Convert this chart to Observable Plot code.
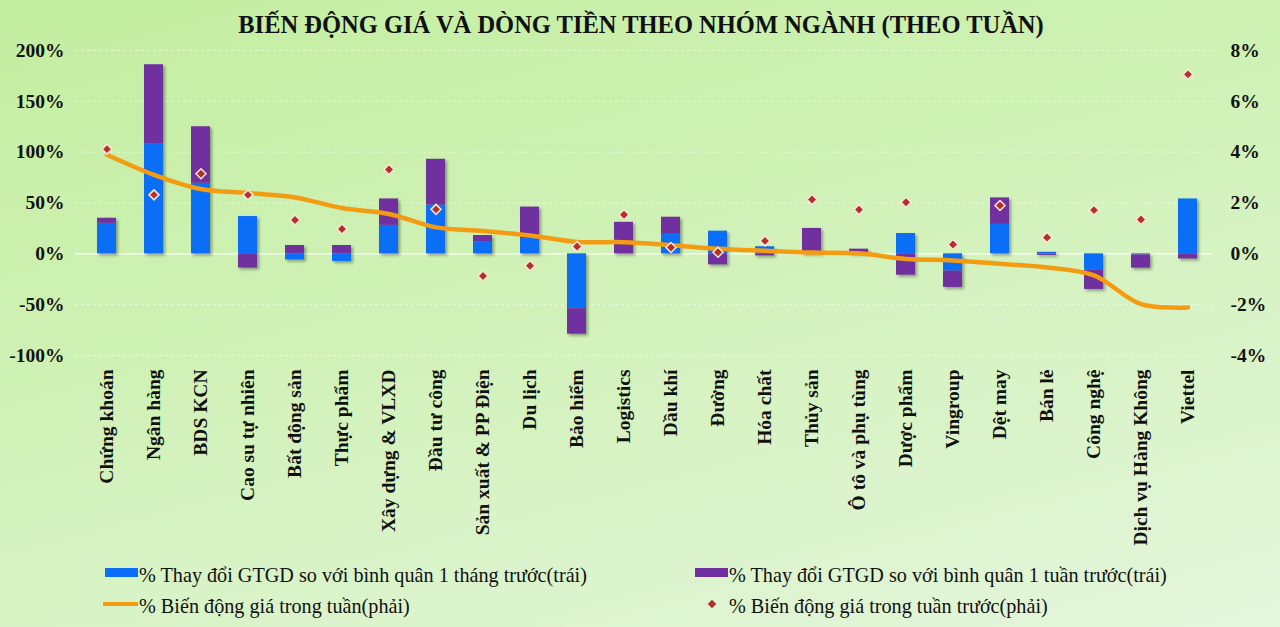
<!DOCTYPE html>
<html><head><meta charset="utf-8">
<script src="https://cdn.jsdelivr.net/npm/d3@7"></script>
<script src="https://cdn.jsdelivr.net/npm/@observablehq/plot@0.6"></script>
<style>
html,body{margin:0;padding:0;}
#page{position:relative;width:1280px;height:627px;overflow:hidden;background:linear-gradient(165deg,#c3eea0 0%,#cff1b5 40%,#e4f6dc 100%);font-family:"Liberation Serif","Times New Roman",serif;color:#111;}
#title{position:absolute;left:0;width:1282px;top:10px;text-align:center;font-weight:bold;font-size:24.5px;line-height:30px;}
#chart{position:absolute;left:0;top:0;}
.bars{filter:drop-shadow(2px 2px 1.5px rgba(0,0,0,0.35));}
.leg{position:absolute;font-size:20.2px;line-height:22px;white-space:nowrap;}
.sw{position:absolute;}
</style></head>
<body>
<div id="page">
  <div id="chart"></div>
  <div id="title">BIẾN ĐỘNG GIÁ VÀ DÒNG TIỀN THEO NHÓM NGÀNH (THEO TUẦN)</div>
  <div class="sw" style="left:105px;top:568px;width:33px;height:9px;background:#0b6ef7"></div>
  <div class="leg" style="left:139px;top:564px;">% Thay đổi GTGD so với bình quân 1 tháng trước(trái)</div>
  <div class="sw" style="left:695px;top:568px;width:33px;height:9px;background:#7030a0"></div>
  <div class="leg" style="left:729px;top:564px;">% Thay đổi GTGD so với bình quân 1 tuần trước(trái)</div>
  <div class="sw" style="left:103px;top:602px;width:35px;height:4px;background:#f39c12"></div>
  <div class="leg" style="left:139px;top:595px;">% Biến động giá trong tuần(phải)</div>
  <div class="sw" style="left:709px;top:601px;width:6px;height:6px;background:#b3302b;transform:rotate(45deg)"></div>
  <div class="leg" style="left:729px;top:595px;">% Biến động giá trong tuần trước(phải)</div>
</div>
<script>
const categories = ["Chứng khoán","Ngân hàng","BDS KCN","Cao su tự nhiên","Bất động sản","Thực phẩm","Xây dựng & VLXD","Đầu tư công","Sản xuất & PP Điện","Du lịch","Bảo hiểm","Logistics","Dầu khí","Đường","Hóa chất","Thủy sản","Ô tô và phụ tùng","Dược phẩm","Vingroup","Dệt may","Bán lẻ","Công nghệ","Dịch vụ Hàng Không","Viettel"];
// % change in trading value vs 1-month average (left axis), bottom segment
const vsMonth = [30,108,69.5,36.7,-6,-7.5,28,48,12,15,-54,0,20,22.3,7,0,0,20,-17,29,1.5,-16,-1,54];
// % change in trading value vs 1-week average (left axis), stacked segment
const vsWeek = [5,78,55.5,-14,8.2,8.2,26,45,6,31,-25,31,16,-10.8,-2,25,4.6,-21,-16,26,-1.5,-19,-13,-5];
// % price change this week (right axis)
const priceWeek = [3.9,3.11,2.55,2.39,2.22,1.80,1.57,1.04,0.90,0.72,0.47,0.46,0.34,0.20,0.12,0.05,0.02,-0.20,-0.26,-0.39,-0.54,-0.85,-1.98,-2.11];
// % price change previous week (right axis)
const pricePrevWeek = [4.12,2.32,3.15,2.32,1.33,0.98,3.32,1.75,-0.87,-0.47,0.29,1.54,0.25,0.06,0.51,2.14,1.74,2.03,0.37,1.90,0.64,1.72,1.35,7.06];
const leftTicks = [-100,-50,0,50,100,150,200];
const rightTicks = [-4,-2,0,2,4,6,8];
const ratio = 25; // left units per right unit

const bars = [];
categories.forEach((c,i)=>{ bars.push({cat:c, s:"month", v:vsMonth[i]}); });
categories.forEach((c,i)=>{ bars.push({cat:c, s:"week", v:vsWeek[i]}); });
const pts = categories.map((c,i)=>({cat:c, p:priceWeek[i], q:pricePrevWeek[i]}));

const chart = Plot.plot({
  width:1280, height:560,
  marginTop:50, marginBottom:205, marginLeft:81, marginRight:67,
  style:{background:"transparent", fontFamily:"'Liberation Serif', serif", color:"#111"},
  x:{domain:categories, paddingInner:0.6, paddingOuter:0.3, axis:null},
  y:{domain:[-100,200], axis:null},
  color:{domain:["month","week"], range:["#0b6ef7","#7030a0"]},
  marks:[
    Plot.ruleY(leftTicks.filter(d=>d!==0), {stroke:"#ffffff", strokeOpacity:0.55, strokeDasharray:"3,3", insetLeft:-6}),
    Plot.ruleY([0], {stroke:"#ffffff", strokeOpacity:0.9, strokeWidth:1.2, insetLeft:-6}),
    Plot.barY(bars, Plot.stackY({x:"cat", y:"v", fill:"s", order:null, className:"bars"})),
    Plot.lineY(pts, {x:"cat", y:d=>d.p*ratio, stroke:"#f39c12", strokeWidth:4.5, curve:"catmull-rom"}),
    Plot.dot(pts, {x:"cat", y:d=>d.q*ratio, symbol:"diamond2", r:4.5, fill:"#b3302b", stroke:"#fce6d6", strokeWidth:1.5}),
    Plot.axisY(leftTicks, {anchor:"left", tickSize:0, tickPadding:17, tickFormat:d=>d+"%", fontSize:19.5, fontWeight:"bold", label:null}),
    Plot.axisY(rightTicks.map(d=>d*ratio), {anchor:"right", tickSize:0, tickPadding:17, tickFormat:d=>(d/ratio)+"%", fontSize:19.5, fontWeight:"bold", label:null}),
    Plot.axisX({tickSize:0, tickPadding:14, tickRotate:-90, fontSize:19.5, fontWeight:"bold", label:null})
  ]
});
document.getElementById("chart").appendChild(chart);
</script>
</body></html>
